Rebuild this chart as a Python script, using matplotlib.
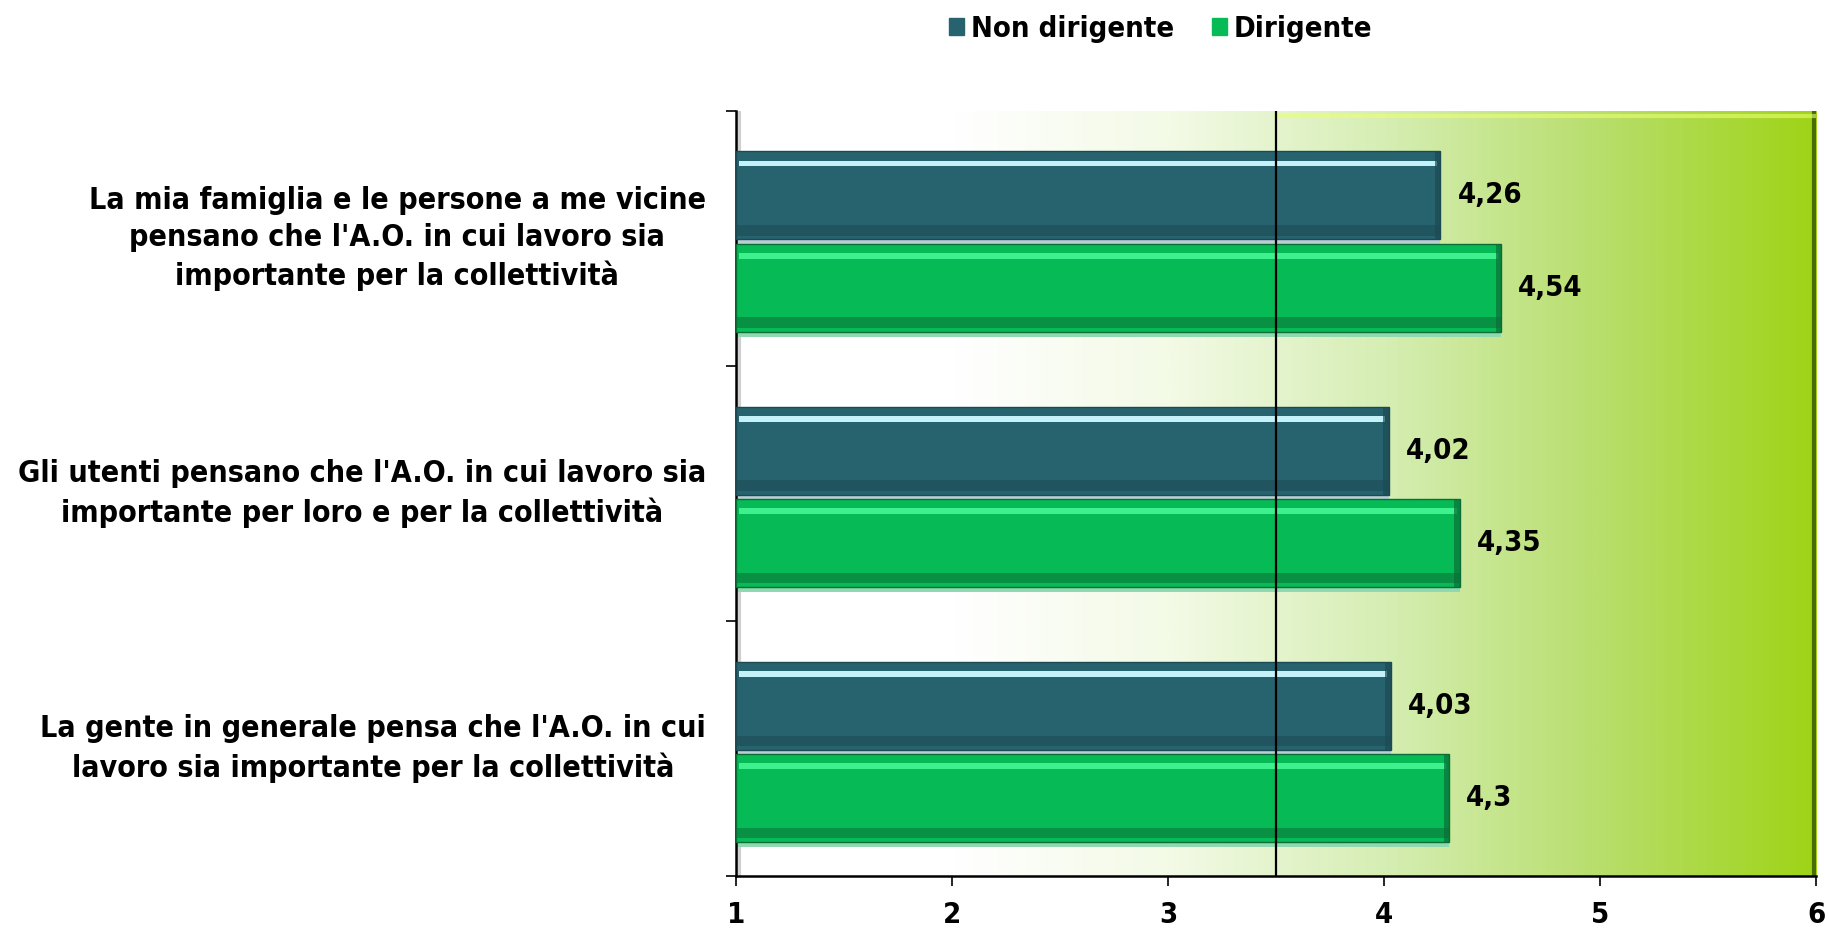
import numpy as np
import matplotlib.pyplot as plt
from matplotlib import font_manager
from matplotlib.colors import LinearSegmentedColormap

categories = [
    "La mia famiglia e le persone a me vicine\npensano che l'A.O. in cui lavoro sia\nimportante per la collettività",
    "Gli utenti pensano che l'A.O. in cui lavoro sia\nimportante per loro e per la collettività",
    "La gente in generale pensa che l'A.O. in cui\nlavoro sia importante per la collettività",
]
non_dirigente = [4.26, 4.02, 4.03]
dirigente = [4.54, 4.35, 4.3]
value_labels_non = ["4,26", "4,02", "4,03"]
value_labels_dir = ["4,54", "4,35", "4,3"]
series_names = ["Non dirigente", "Dirigente"]
x_ticks = [1, 2, 3, 4, 5, 6]
ref_line = 3.5

col_non = "#27636f"
col_dir = "#06bb55"

# a heavy, slightly narrow face, like the original Tahoma bold
fp = font_manager.FontProperties(family="DejaVu Sans", stretch="condensed", weight="bold")
path = font_manager.findfont(fp, fallback_to_default=False)
if "Condensed" in path:
    fam, stretch = "DejaVu Sans", "condensed"
    size_cat, size_num = 21.8, 21
else:
    fam, stretch = "DejaVu Sans", "normal"
    size_cat, size_num = 19.5, 19
font = dict(family=fam, stretch=stretch, weight="bold")

fig = plt.figure(figsize=(18.31, 9.31), dpi=100)
ax = fig.add_axes([0.402, 0.059, 0.590, 0.822])

xmin, xmax = 1, 6
n = len(categories)
ax.set_xlim(xmin, xmax)
ax.set_ylim(n, 0)

# background gradient
cmap = LinearSegmentedColormap.from_list(
    "bg", [(0, "#ffffff"), (0.2, "#ffffff"), (0.4, "#f3fae6"),
           (0.6, "#d6eeb4"), (0.8, "#b8de6c"), (1.0, "#9ed417")])
grad = np.linspace(0, 1, 400).reshape(1, -1)
ax.imshow(grad, aspect="auto", cmap=cmap, extent=[xmin, xmax, n, 0], zorder=0)
ax.axvline(xmax - 0.012, color="#4c6b05", lw=3, zorder=1)
ax.axhline(0.02, xmin=0.5, xmax=1, color="#eaff70", lw=3, alpha=0.6, zorder=1)
ax.axvline(xmin + 0.012, color="#cfcfcf", lw=3, zorder=1)

y = np.arange(n) + 0.5
h = 0.345
off_top = -0.168
off_bot = 0.193


def bevel_bars(ypos, vals, color, light, dark, shadow):
    w = [v - xmin for v in vals]
    ax.barh(ypos + h * 0.53, w, left=xmin, height=h * 0.06, color=shadow,
            linewidth=0, zorder=2)
    ax.barh(ypos, w, left=xmin, height=h, color=color,
            edgecolor=dark, linewidth=1.0, zorder=3)
    ax.barh(ypos - h * 0.36, [v - xmin - 0.03 for v in vals], left=xmin + 0.015,
            height=h * 0.06, color=light, linewidth=0, zorder=4)
    ax.barh(ypos + h * 0.40, w, left=xmin,
            height=h * 0.12, color=dark, alpha=0.55, linewidth=0, zorder=4)
    ax.barh(ypos, [0.025] * len(vals), left=[v - 0.025 for v in vals],
            height=h, color=dark, alpha=0.7, linewidth=0, zorder=4)


bevel_bars(y + off_top, non_dirigente, col_non, "#c4f2f8", "#1c4a53", "#b9cfd4")
bevel_bars(y + off_bot, dirigente, col_dir, "#3ff08f", "#0a6e36", "#8fd8b0")

for yi, v, s in zip(y + off_top, non_dirigente, value_labels_non):
    ax.text(v + 0.08, yi, s, va="center", ha="left", fontsize=size_num,
            zorder=5, **font)
for yi, v, s in zip(y + off_bot, dirigente, value_labels_dir):
    ax.text(v + 0.08, yi, s, va="center", ha="left", fontsize=size_num,
            zorder=5, **font)

ax.axvline(ref_line, color="black", lw=1.6, zorder=6)

ax.set_xticks(x_ticks)
ax.set_xticklabels([str(t) for t in x_ticks], fontsize=size_num, **font)
ax.tick_params(axis="x", length=7, width=1.2, pad=11)
ax.set_yticks(np.arange(n + 1))
ax.set_yticklabels([])
ax.tick_params(axis="y", length=7, width=1.2)
cat_texts = []
for i, c in enumerate(categories):
    t = ax.text(-0.07, 1 - (i + 0.5) / n, c, transform=ax.transAxes, ha="center",
                va="center", fontsize=size_cat, multialignment="center",
                linespacing=1.36, **font)
    cat_texts.append(t)

for side in ["top", "right"]:
    ax.spines[side].set_visible(False)
ax.spines["left"].set_linewidth(1.8)
ax.spines["bottom"].set_linewidth(1.8)

handles = [plt.Rectangle((0, 0), 1, 1, color=col_non),
           plt.Rectangle((0, 0), 1, 1, color=col_dir)]
fig.legend(handles, series_names, loc="upper center", bbox_to_anchor=(0.634, 1.012),
           ncol=2, frameon=False, prop=font_manager.FontProperties(size=size_num, **font),
           handlelength=0.5, handleheight=0.5, handletextpad=0.25, columnspacing=1.3)

# right-align the centred label blocks against the same edge
fig.canvas.draw()
renderer = fig.canvas.get_renderer()
inv = ax.transAxes.inverted()
right_target = fig.transFigure.transform((706 / 1831, 0))[0]
for t in cat_texts:
    bb = t.get_window_extent(renderer)
    shift = right_target - bb.x1
    px = ax.transAxes.transform(t.get_position())
    t.set_position(inv.transform((px[0] + shift, px[1])))

fig.savefig("out.png", dpi=100)
